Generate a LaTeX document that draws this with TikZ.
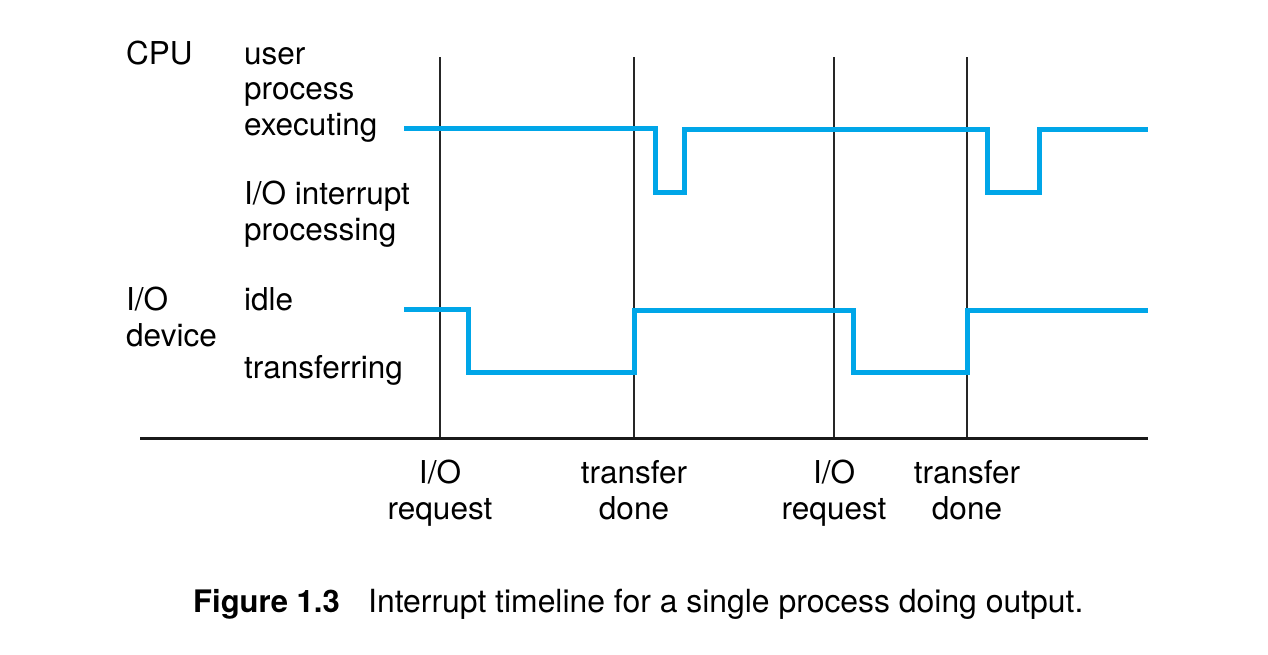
\documentclass[tikz,border=0pt]{standalone}
\usepackage{fontspec}
\setmainfont{TeX Gyre Heros}
\definecolor{wave}{RGB}{0,166,232}
\begin{document}
\begin{tikzpicture}[x=1pt,y=-1pt,
  lbl/.style={anchor=base west,inner sep=0pt,align=left,font=\fontsize{31.5}{35.5}\selectfont},
  tick/.style={anchor=base,inner sep=0pt,align=center,font=\fontsize{31.5}{35.5}\selectfont},
  wavel/.style={draw=wave,line width=5pt,line join=miter},
  vline/.style={draw=black!85,line width=1.6pt},
  axis/.style={draw=black!90,line width=3pt}]
\useasboundingbox (0,0) rectangle (1268,654);
% vertical markers
\foreach \n/\x in {a/440,b/634,c/834,d/967}{
  \coordinate (\n top) at (\x,57);
  \coordinate (\n bot) at (\x,438);
  \draw[vline] (\n top) -- (\n bot);
}
% axis
\coordinate (axL) at (140,438);
\coordinate (axR) at (1148,438);
\draw[axis] (axL) -- (axR);
% CPU waveform
\draw[wavel] (404,128) -- (655,128) -- (655,192) -- (684,192) -- (684,129.5) -- (987,129.5) -- (987,192) -- (1039,192) -- (1039,129.5) -- (1148,129.5);
% IO waveform
\draw[wavel] (404,309) -- (468,309) -- (468,372) -- (634,372) -- (634,310) -- (853,310) -- (853,372) -- (967,372) -- (967,310) -- (1148,310);
% labels (anchored at baseline of last line)
\node[lbl] (cpu) at (126,64) {CPU};
\node[lbl] (user) at (244,135) {user\\process\\executing};
\node[lbl] (intr) at (244,240) {I/O interrupt\\processing};
\node[lbl] (iod) at (126,346) {I/O\\device};
\node[lbl] (idle) at (244,310) {idle};
\node[lbl] (tr) at (244,378) {transferring};
\node[tick] (t1) at (440,519) {I/O\\request};
\node[tick] (t2) at (634,519) {transfer\\done};
\node[tick] (t3) at (834,519) {I/O\\request};
\node[tick] (t4) at (967,519) {transfer\\done};
\node[anchor=base west,inner sep=0pt,font=\fontsize{31}{34}\selectfont\bfseries] (fig) at (193,612) {Figure 1.3};
\node[anchor=base west,inner sep=0pt,font=\fontsize{31.9}{34}\selectfont] (cap) at (368,612) {Interrupt timeline for a single process doing output.};
\end{tikzpicture}
\end{document}
